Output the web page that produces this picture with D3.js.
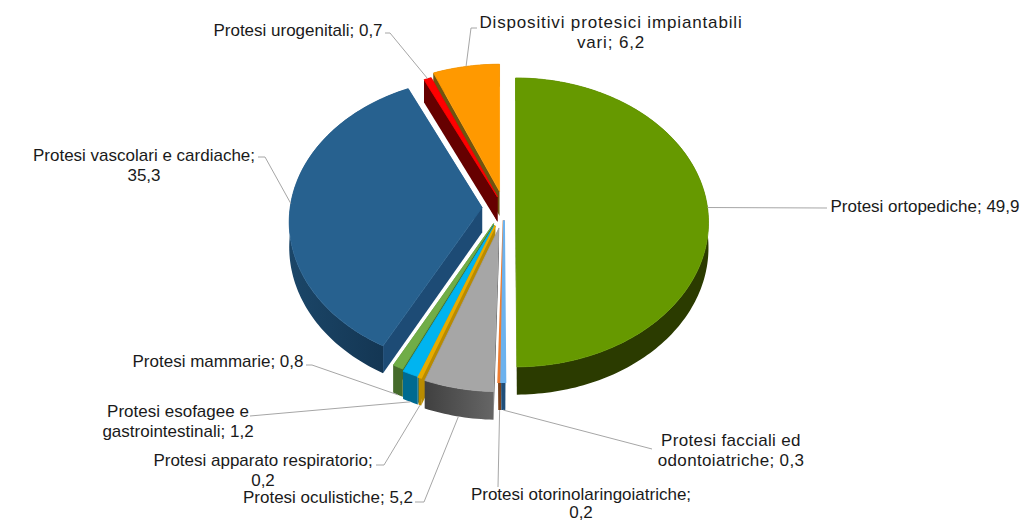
<!DOCTYPE html>
<html>
<head>
<meta charset="utf-8">
<script src="https://cdn.jsdelivr.net/npm/d3@7"></script>
<style>
html, body { margin: 0; background: #fff; }
text { font-family: "Liberation Sans", Arial, sans-serif; font-size: 17px; fill: #1a1a1a; }
</style>
</head>
<body>
<div id="chart"></div>
<script>
const categories = [
    "Protesi ortopediche", "Protesi facciali ed odontoiatriche", "Protesi otorinolaringoiatriche",
    "Protesi oculistiche", "Protesi apparato respiratorio", "Protesi esofagee e gastrointestinali",
    "Protesi mammarie", "Protesi vascolari e cardiache", "Protesi urogenitali",
    "Dispositivi protesici impiantabili vari"
];
const values = [49.9, 0.3, 0.2, 5.2, 0.2, 1.2, 0.8, 35.3, 0.7, 6.2];
const topColors = ["#669900", "#6cb2ee", "#ed7d31", "#a6a6a6", "#e6ac00", "#00b4f0", "#70ad47", "#27618f", "#ff0000", "#ff9900"];
const wallColors = ["#2b3b00", "#1f4e79", "#7a4019", "#505050", "#b98b00", "#006a90", "#456b2b", "#173d5e", "#660000", "#6e5410"];
const sideColors = ["#2b3b00", "#1f4e79", "#7a4019", "#505050", "#b98b00", "#006a90", "#456b2b", "#1d4b75", "#660000", "#6e5410"];

// label text lines, anchor, and leader route for each slice
const labelLines = [
    ["Protesi ortopediche; 49,9"],
    ["Protesi facciali ed", "odontoiatriche; 0,3"],
    ["Protesi otorinolaringoiatriche;", "0,2"],
    ["Protesi oculistiche; 5,2"],
    ["Protesi apparato respiratorio;", "0,2"],
    ["Protesi esofagee e", "gastrointestinali; 1,2"],
    ["Protesi mammarie; 0,8"],
    ["Protesi vascolari e cardiache;", "35,3"],
    ["Protesi urogenitali; 0,7"],
    ["Dispositivi protesici impiantabili", "vari;  6,2"]
];
const labelPos = [
    [925, 212], [731, 446], [581, 500], [328, 503], [263, 466],
    [178, 417], [218, 367], [144, 161], [298, 36], [611, 28]
];
const labelSpacing = [0, 0.35, 0, 0, 0, 0, 0, 0, 0, 0.85];
const lineGap = [20, 20, 18, 20, 20, 20, 20, 20, 20, 20];
const leaderRoutes = [
    [[827, 208]],
    [[652, 449]],
    [[498, 487]],
    [[424, 502], [415, 502]],
    [[384, 465], [376, 465]],
    [[250, 416]],
    [[312, 365], [306, 365]],
    [[265, 157], [258, 157]],
    [[390, 33], [385, 33]],
    [[471, 28], [477, 28]]
];
const leaderDepth = [0, 1, 1, 1, 1, 1, 1, 0, 0, 0];
// how far each slice is pulled out of the pie
const explodeBy = [0.06, 0.085, 0.085, 0.14, 0.13, 0.13, 0.12, 0.114, 0.085, 0.12];

const width = 1020, height = 522;
const cx = 504, cy = 208, rx = 192, ry = 143, depth = 25;
const persp = 0.1;

const svg = d3.select("#chart").append("svg")
    .attr("width", width)
    .attr("height", height)
    .style("display", "block");

const slices = d3.pie().sort(null).value(d => d)(values)
    .map((d, i) => ({ ...d, i, mid: (d.startAngle + d.endAngle) / 2 }));

// angle on the pie -> screen, the depth foreshortening only acts on the radial part
function slicePoint(s, angle, r, z) {
    const e = explodeBy[s.i];
    const v = -r * Math.cos(angle) - e * Math.cos(s.mid);
    const w = 1 / (1 - persp * v);
    return [
        cx + rx * (r * Math.sin(angle) * w + e * Math.sin(s.mid)),
        cy + ry * v * w + depth * z * w
    ];
}

const line = d3.line();

function arcPoints(s, z) {
    const n = Math.max(2, Math.ceil((s.endAngle - s.startAngle) / 0.02));
    return d3.range(n + 1).map(k => slicePoint(s, s.startAngle + (s.endAngle - s.startAngle) * k / n, 1, z));
}

const defs = svg.append("defs");
const blueWall = defs.append("linearGradient").attr("id", "wall7");
blueWall.append("stop").attr("offset", "0%").attr("stop-color", "#1b4668");
blueWall.append("stop").attr("offset", "100%").attr("stop-color", "#12324e");
const grayWall = defs.append("linearGradient").attr("id", "wall3");
grayWall.append("stop").attr("offset", "0%").attr("stop-color", "#404040");
grayWall.append("stop").attr("offset", "100%").attr("stop-color", "#666666");

// far slices first
const drawOrder = slices.slice().sort((a, b) => (-Math.cos(a.mid)) - (-Math.cos(b.mid)));

drawOrder.forEach(s => {
    const g = svg.append("g").attr("class", "slice");
    const apexTop = slicePoint(s, s.mid, 0, 0), apexLow = slicePoint(s, s.mid, 0, 1);
    [s.startAngle, s.endAngle].forEach(a => {
        const wall = [apexTop, slicePoint(s, a, 1, 0), slicePoint(s, a, 1, 1), apexLow];
        g.append("path").attr("d", line(wall) + "Z").attr("fill", sideColors[s.i]);
    });
    const outer = arcPoints(s, 0).concat(arcPoints(s, 1).reverse());
    g.append("path").attr("d", line(outer) + "Z")
        .attr("fill", s.i === 7 ? "url(#wall7)" : s.i === 3 ? "url(#wall3)" : wallColors[s.i]);
    const top = [apexTop].concat(arcPoints(s, 0));
    g.append("path").attr("d", line(top) + "Z")
        .attr("fill", topColors[s.i])
        .attr("stroke", topColors[s.i])
        .attr("stroke-width", values[s.i] < 0.5 ? 2 : 0.8);
});

// leader lines
slices.forEach(s => {
    const start = slicePoint(s, s.mid, 1, leaderDepth[s.i]);
    svg.append("path")
        .attr("d", line([start].concat(leaderRoutes[s.i])))
        .attr("fill", "none")
        .attr("stroke", "#a6a6a6")
        .attr("stroke-width", 1);
});

// labels
svg.append("g").selectAll("text")
    .data(slices)
    .join("text")
    .attr("text-anchor", "middle")
    .attr("x", d => labelPos[d.i][0])
    .attr("y", d => labelPos[d.i][1])
    .style("letter-spacing", d => labelSpacing[d.i] + "px")
    .each(function (d) {
        d3.select(this).selectAll("tspan")
            .data(labelLines[d.i])
            .join("tspan")
            .attr("x", labelPos[d.i][0])
            .attr("dy", (l, k) => k === 0 ? 0 : lineGap[d.i])
            .text(l => l);
    });
</script>
</body>
</html>
